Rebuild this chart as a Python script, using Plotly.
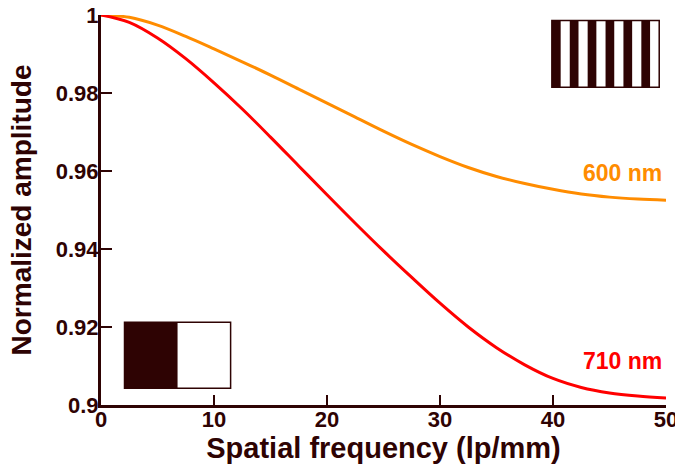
import plotly.graph_objects as go

# Data
freq = [0, 2.5, 5, 7.5, 10, 12.5, 15, 17.5, 20, 22.5, 25, 27.5, 30, 32.5, 35, 37.5, 40, 42.5, 45, 47.5, 50]
amp_600 = [1.0000, 0.9994, 0.9974, 0.9945, 0.9913, 0.9880, 0.9846, 0.9810, 0.9774, 0.9738, 0.9702,
           0.9668, 0.9637, 0.9609, 0.9586, 0.9568, 0.9553, 0.9541, 0.9533, 0.9528, 0.9525]
amp_710 = [1.0000, 0.9981, 0.9941, 0.9888, 0.9826, 0.9759, 0.9687, 0.9613, 0.9539, 0.9466, 0.9395,
           0.9327, 0.9261, 0.9200, 0.9147, 0.9103, 0.9068, 0.9045, 0.9031, 0.9023, 0.9018]

x_ticks = [0, 10, 20, 30, 40, 50]
y_ticks = [0.9, 0.92, 0.94, 0.96, 0.98, 1.0]
y_tick_labels = ["0.9", "0.92", "0.94", "0.96", "0.98", "1"]

DARK = "#2e0303"
ORANGE = "#ff8c00"
RED = "#ff0000"
FONT = "Liberation Sans, Arial, sans-serif"

fig = go.Figure()
fig.add_trace(go.Scatter(x=freq, y=amp_600, mode="lines", line=dict(color=ORANGE, width=3, shape="spline"),
                         name="600 nm", showlegend=False))
fig.add_trace(go.Scatter(x=freq, y=amp_710, mode="lines", line=dict(color=RED, width=3, shape="spline"),
                         name="710 nm", showlegend=False))

# Series labels
fig.add_annotation(x=50, y=0.9595, xref="x", yref="y", text="<b>600 nm</b>", showarrow=False,
                   xanchor="right", xshift=-2, font=dict(color=ORANGE, size=23, family=FONT))
fig.add_annotation(x=50, y=0.9113, xref="x", yref="y", text="<b>710 nm</b>", showarrow=False,
                   xanchor="right", xshift=-2, font=dict(color=RED, size=23, family=FONT))

# Grating icons (decorative)
shapes = []
x0, x1, y0, y1 = 0.798, 0.988, 0.815, 0.986
n = 12
w = (x1 - x0) / n
for i in range(n):
    shapes.append(dict(type="rect", xref="paper", yref="paper",
                       x0=x0 + i * w, x1=x0 + (i + 1) * w, y0=y0, y1=y1,
                       fillcolor=DARK if i % 2 == 0 else "white", line=dict(width=0)))
shapes.append(dict(type="rect", xref="paper", yref="paper", x0=x0, x1=x1, y0=y0, y1=y1,
                   fillcolor="rgba(0,0,0,0)", line=dict(color=DARK, width=1.5)))
bx0, bxm, bx1, by0, by1 = 0.0416, 0.1355, 0.2294, 0.043, 0.212
shapes.append(dict(type="rect", xref="paper", yref="paper", x0=bx0, x1=bxm, y0=by0, y1=by1,
                   fillcolor=DARK, line=dict(width=0)))
shapes.append(dict(type="rect", xref="paper", yref="paper", x0=bx0, x1=bx1, y0=by0, y1=by1,
                   fillcolor="rgba(0,0,0,0)", line=dict(color=DARK, width=1.5)))

fig.update_layout(
    width=675, height=467,
    margin=dict(l=101, r=9, t=15, b=62, autoexpand=False),
    paper_bgcolor="white", plot_bgcolor="white",
    shapes=shapes,
    font=dict(family=FONT, color=DARK),
    xaxis=dict(
        range=[0, 50], tickvals=x_ticks, ticks="inside", ticklen=10, tickwidth=2, tickcolor=DARK,
        showline=True, linecolor=DARK, linewidth=3, showgrid=False, zeroline=False, automargin=False,
        ticklabeloverflow="allow", ticklabelstandoff=-7,
        tickfont=dict(size=22, family=FONT, color=DARK, weight="bold"),
        title=dict(text="<b>Spatial frequency (lp/mm)</b>", font=dict(size=29, family=FONT, color=DARK),
                   standoff=4),
    ),
    yaxis=dict(
        range=[0.9, 1.0], tickvals=y_ticks, ticktext=y_tick_labels, ticks="inside", ticklen=11,
        tickwidth=2, tickcolor=DARK,
        showline=True, linecolor=DARK, linewidth=3, showgrid=False, zeroline=False, automargin=False,
        ticklabeloverflow="allow", ticklabelstandoff=-5,
        tickfont=dict(size=22, family=FONT, color=DARK, weight="bold"),
        title=dict(text="<b>Normalized amplitude</b>", font=dict(size=28, family=FONT, color=DARK),
                   standoff=16),
    ),
)

fig.write_html("out.html", config={"displayModeBar": False},
               post_script="document.body.style.margin='0';document.body.style.padding='0';")
